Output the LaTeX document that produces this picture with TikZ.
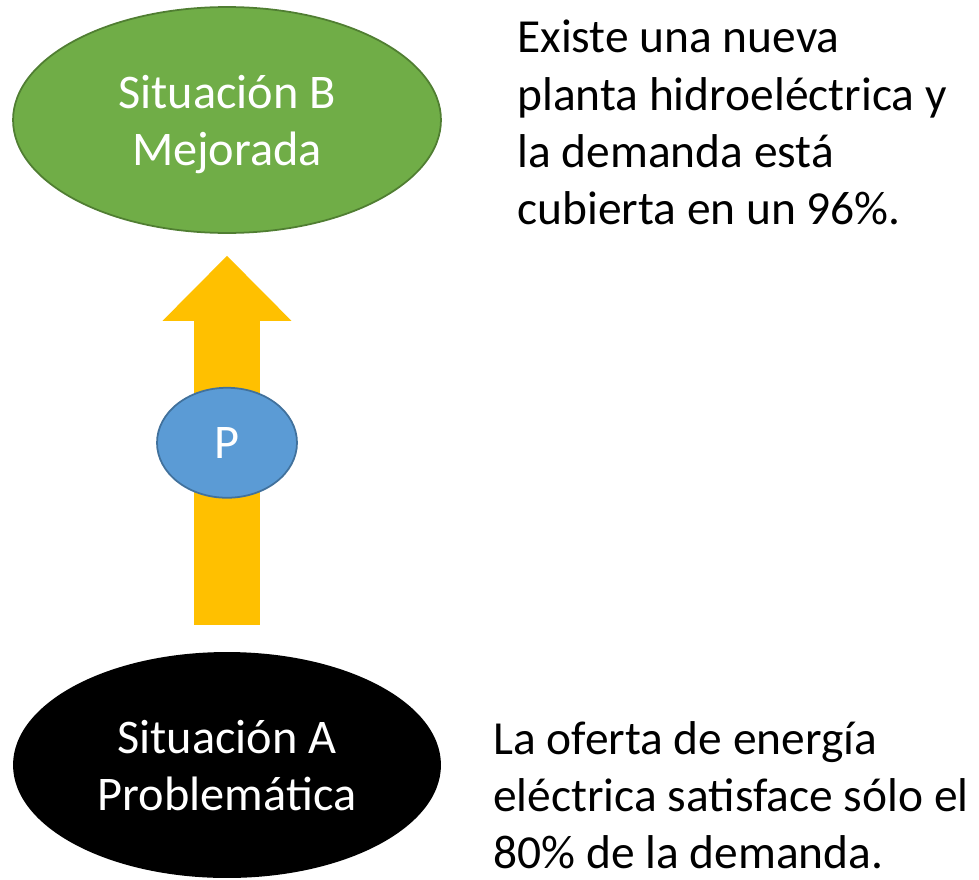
\documentclass[tikz,border=0pt]{standalone}
\usepackage{fontspec}
\setmainfont{Carlito}
\usetikzlibrary{shapes.geometric, positioning, calc, arrows.meta}
\definecolor{verde}{HTML}{70AD47}
\definecolor{verdeborde}{HTML}{507E32}
\definecolor{azul}{HTML}{5B9BD5}
\definecolor{azulborde}{HTML}{41719C}
\definecolor{amarillo}{HTML}{FFC000}
\tikzset{
  x=0.02cm, y=-0.02cm,
  situacion/.style={ellipse, inner sep=0pt, minimum width=8.56cm, minimum height=4.52cm,
    text=white, align=center, text depth=0pt, font=\fontsize{27.5}{32.5}\selectfont},
  proceso/.style={ellipse, inner sep=0pt, minimum width=2.8cm, minimum height=2.2cm,
    fill=azul, draw=azulborde, line width=1pt, text=white, font=\fontsize{27.5}{32.5}\selectfont},
  nota/.style={anchor=north west, inner sep=0pt, align=left, font=\fontsize{27}{32.5}\selectfont},
  flecha/.style={amarillo, line width=1.32cm,
    -{Triangle[width=2.58cm, length=1.3cm, line width=0pt]}},
}
\begin{document}
\begin{tikzpicture}
      \useasboundingbox (0,0) rectangle (979,879);
      \node[situacion, fill=verde, draw=verdeborde, line width=1pt] (sb) at (227,120) {Situación B\\Mejorada};
      \node[situacion, fill=black] (sa) at (227,765) {Situación A\\Problemática};

      \draw[flecha] ([yshift=0.54cm]sa.north) -- ([yshift=-0.44cm]sb.south);
      \node[proceso] (p) at ($(sa.north)!0.5!(sb.south)$) {P};

      \node[nota] (textob) at (517,20) {Existe una nueva\\planta hidroeléctrica y\\la demanda está\\cubierta en un 96\%.};
      \node[nota] (textoa) at (493,721) {La oferta de energía\\eléctrica satisface sólo el\\80\% de la demanda.};
    \end{tikzpicture}
\end{document}
